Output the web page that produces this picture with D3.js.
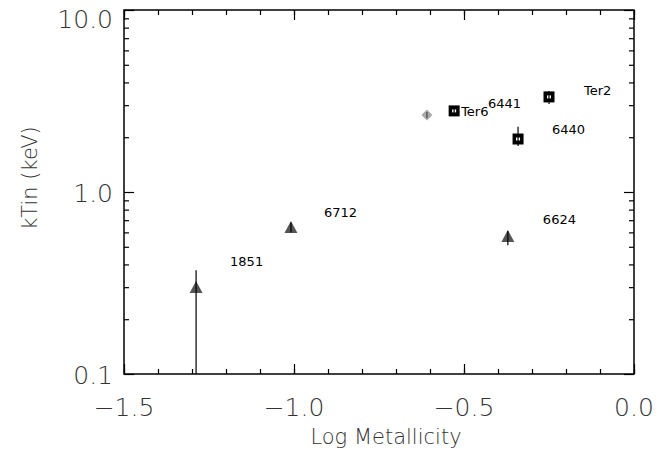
<!DOCTYPE html>
<html>
<head>
<meta charset="utf-8">
<script src="https://cdn.jsdelivr.net/npm/d3@7"></script>
<style>
body { margin: 0; background: #fff; }
text { font-family: "DejaVu Sans", sans-serif; }
</style>
</head>
<body>
<svg width="661" height="450"></svg>
<script>
// cluster data
var names  = ["1851", "6712", "6624", "6441", "Ter6", "6440", "Ter2"];
var logZ   = [-1.288, -1.009, -0.371, -0.609, -0.529, -0.341, -0.25];
var kT     = [0.297, 0.634, 0.566, 2.65, 2.79, 1.955, 3.33];
var kTlo   = [0.03, 0.60, 0.51, 2.55, 2.70, 1.79, 3.04];
var kThi   = [0.372, 0.68, 0.61, 2.75, 2.88, 2.28, 3.59];
var symbol = ["tri", "tri", "tri", "dia", "sq", "sq", "sq"];

var xTicks = [-1.5, -1.0, -0.5, 0.0];
var yTicks = [0.1, 1, 10];

// label offsets from each point (layout only)
var labelDx = [34, 33, 35, 61, 7, 34, 35];
var labelDy = [-22, -11, -13, -7, 5, -5, -2];

var svg = d3.select("svg");
var pLeft = 124, pRight = 634, pTop = 10, pBottom = 374;

var x = d3.scaleLinear().domain([-1.5, 0]).range([pLeft, pRight]);
var y = d3.scaleLog().domain([0.1, 10]).range([pBottom, pTop]);

svg.append("defs").append("clipPath").attr("id", "clip")
    .append("rect").attr("x", pLeft).attr("y", pTop)
    .attr("width", pRight - pLeft).attr("height", pBottom - pTop);

var xMinor = d3.range(-15, 1).map(function (d) { return d / 10; });
var yMinor = [];
[0.1, 1].forEach(function (b) {
    for (var k = 2; k <= 9; k++) yMinor.push(b * k);
});

function axes() {
    svg.append("g").attr("transform", "translate(0," + pBottom + ")")
        .call(d3.axisBottom(x).tickValues(xMinor).tickSize(-5).tickFormat(""));
    svg.append("g").attr("transform", "translate(0," + pBottom + ")")
        .call(d3.axisBottom(x).tickValues(xTicks).tickSize(-10).tickFormat(""));
    svg.append("g").attr("transform", "translate(0," + pTop + ")")
        .call(d3.axisTop(x).tickValues(xMinor).tickSize(-5).tickFormat(""));
    svg.append("g").attr("transform", "translate(0," + pTop + ")")
        .call(d3.axisTop(x).tickValues(xTicks).tickSize(-10).tickFormat(""));
    svg.append("g").attr("transform", "translate(" + pLeft + ",0)")
        .call(d3.axisLeft(y).tickValues(yMinor).tickSize(-5).tickFormat(""));
    svg.append("g").attr("transform", "translate(" + pLeft + ",0)")
        .call(d3.axisLeft(y).tickValues(yTicks).tickSize(-10).tickFormat(""));
    svg.append("g").attr("transform", "translate(" + pRight + ",0)")
        .call(d3.axisRight(y).tickValues(yMinor).tickSize(-5).tickFormat(""));
    svg.append("g").attr("transform", "translate(" + pRight + ",0)")
        .call(d3.axisRight(y).tickValues(yTicks).tickSize(-10).tickFormat(""));
    svg.selectAll(".domain").remove();
    svg.selectAll(".tick line").attr("stroke", "#000").attr("stroke-width", 1.2);
    svg.append("rect").attr("x", pLeft).attr("y", pTop)
        .attr("width", pRight - pLeft).attr("height", pBottom - pTop)
        .attr("fill", "none").attr("stroke", "#000").attr("stroke-width", 1.5);
}
axes();

// tick labels
svg.selectAll(".xl").data(xTicks).enter().append("text")
    .attr("x", function (d) { return x(d); })
    .attr("y", 416)
    .attr("text-anchor", "middle")
    .attr("font-size", 25).attr("font-weight", 200).attr("fill", "#333")
    .text(function (d) { return (d === 0 ? "0.0" : "\u2212" + Math.abs(d).toFixed(1)); });

svg.selectAll(".yl").data(yTicks).enter().append("text")
    .attr("x", pLeft - 11)
    .attr("y", function (d) { return Math.max(y(d) + 10, 28); })
    .attr("text-anchor", "end")
    .attr("font-size", 25).attr("font-weight", 200).attr("fill", "#333")
    .text(function (d) { return d.toFixed(1); });

svg.append("text").attr("x", 386).attr("y", 444)
    .attr("text-anchor", "middle")
    .attr("font-size", 21).attr("font-weight", 200).attr("fill", "#333")
    .text("Log Metallicity");

svg.append("text")
    .attr("transform", "translate(37,178) rotate(-90)")
    .attr("text-anchor", "middle")
    .attr("font-size", 21).attr("font-weight", 200).attr("fill", "#333")
    .text("kTin (keV)");

var pts = names.map(function (n, i) {
    return { name: n, x: logZ[i], y: kT[i], lo: kTlo[i], hi: kThi[i], s: symbol[i], dx: labelDx[i], dy: labelDy[i] };
});

var plot = svg.append("g").attr("clip-path", "url(#clip)");

var g = plot.selectAll(".pt").data(pts).enter().append("g")
    .attr("transform", function (d) { return "translate(" + x(d.x) + "," + y(d.y) + ")"; });

g.filter(function (d) { return d.s === "tri"; }).append("path")
    .attr("d", "M0,-7 L6.5,5 L-6.5,5 Z").attr("fill", "#555");
g.filter(function (d) { return d.s === "dia"; }).append("path")
    .attr("d", "M0,-5.5 L5.5,0 L0,5.5 L-5.5,0 Z").attr("fill", "#aaa");
g.filter(function (d) { return d.s === "sq"; }).append("rect")
    .attr("x", -5.5).attr("y", -5.5).attr("width", 11).attr("height", 11).attr("fill", "#000");
g.filter(function (d) { return d.s === "sq"; }).append("rect")
    .attr("x", -2).attr("y", -1.5).attr("width", 4).attr("height", 3).attr("fill", "#fff");

// error bars
plot.selectAll(".err").data(pts).enter().append("line")
    .attr("x1", function (d) { return x(d.x); })
    .attr("x2", function (d) { return x(d.x); })
    .attr("y1", function (d) { return y(d.lo); })
    .attr("y2", function (d) { return y(d.hi); })
    .attr("stroke", function (d) { return d.s === "dia" ? "#444" : "#000"; })
    .attr("stroke-width", 1.2);

svg.selectAll(".lab").data(pts).enter().append("text")
    .attr("x", function (d) { return x(d.x) + d.dx; })
    .attr("y", function (d) { return y(d.y) + d.dy; })
    .attr("font-size", 13).attr("fill", "#000")
    .text(function (d) { return d.name; });
</script>
</body>
</html>
